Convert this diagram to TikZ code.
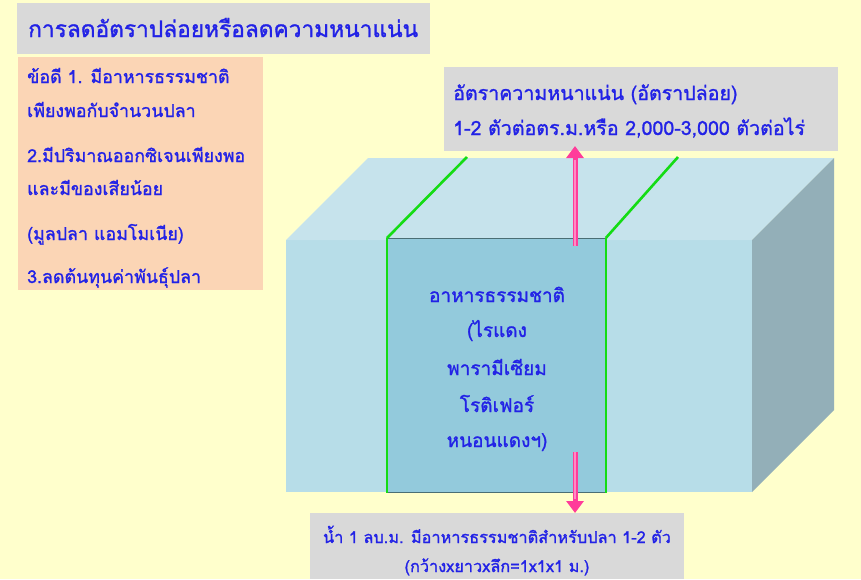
\documentclass[tikz,border=0pt]{standalone}
\usepackage{fontspec}
\newfontfamily\thai[Script=Thai,FakeBold=1.3]{Loma}
\usetikzlibrary{arrows.meta}
\definecolor{bg}{HTML}{FFFFCC}
\definecolor{graybox}{HTML}{D9D9D9}
\definecolor{peach}{HTML}{FBD5B5}
\definecolor{txtblue}{HTML}{2222E6}
\definecolor{frontc}{HTML}{B7DDE8}
\definecolor{topc}{HTML}{C6E3EC}
\definecolor{sidec}{HTML}{93AFB8}
\definecolor{innerc}{HTML}{93CADC}
\definecolor{greenl}{HTML}{14DC14}
\definecolor{pinkc}{HTML}{FF3C9A}
\definecolor{pinkl}{HTML}{FF8CC4}
\definecolor{edgec}{HTML}{4A6E74}
\tikzset{
  txt/.style={font=\thai\fontsize{17.8}{20}\selectfont, text=txtblue, inner sep=0pt},
  txtr/.style={font=\thai\fontsize{19.6}{22}\selectfont, text=txtblue, inner sep=0pt},
  txtf/.style={font=\thai\fontsize{19}{22}\selectfont, text=txtblue, inner sep=0pt},
  txtb/.style={font=\thai\fontsize{16.3}{19}\selectfont, text=txtblue, inner sep=0pt},
  ttl/.style={font=\thai\fontsize{22.7}{26}\selectfont, text=txtblue, inner sep=0pt},
  greenedge/.style={draw=greenl, line width=2.6pt},
  pinkarrow/.style={draw=pinkc, line width=5pt, -{Triangle[width=17pt,length=12pt]}},
}
\begin{document}
\begin{tikzpicture}[x=1pt,y=-1pt]
\useasboundingbox (0,0) rectangle (861,579);
\fill[bg] (0,0) rectangle (861,579);
% panels
\fill[graybox] (17,3) rectangle (430,54);
\fill[peach] (18,57) rectangle (263,290);
\fill[graybox] (444,67) rectangle (838,151);
\fill[graybox] (310,513) rectangle (684,579);
% cube
\fill[frontc] (286,240) rectangle (752,492);
\fill[topc] (286,240) -- (368,158) -- (834,158) -- (752,240) -- cycle;
\fill[sidec] (752,240) -- (834,158) -- (834,410) -- (752,492) -- cycle;
\node[draw=edgec, line width=0.8pt, fill=innerc, minimum width=218pt, minimum height=254pt, anchor=north west, inner sep=0pt] (inner) at (387,238) {};
\draw[greenedge] (inner.north west) -- (467,157);
\draw[greenedge] (inner.north east) -- (678,157);
\draw[greenedge] (inner.north west) -- (inner.south west);
\draw[greenedge] (inner.north east) -- (inner.south east);
% texts
\node[ttl, anchor=base west] (title) at (28,37) {การลดอัตราปล่อยหรือลดความหนาแน่น};
\node[txt, anchor=base west] (a1) at (27,83) {ข้อดี 1. มีอาหารธรรมชาติ};
\node[txt, anchor=base west] (a2) at (27,117) {เพียงพอกับจำนวนปลา};
\node[txt, anchor=base west] (a3) at (27,162) {2.มีปริมาณออกซิเจนเพียงพอ};
\node[txt, anchor=base west] (a4) at (27,195) {และมีของเสียน้อย};
\node[txt, anchor=base west] (a5) at (27,240) {(มูลปลา แอมโมเนีย)};
\node[txt, anchor=base west] (a6) at (27,283) {3.ลดต้นทุนค่าพันธุ์ปลา};
\node[txtr, anchor=base west] (d1) at (453,100) {อัตราความหนาแน่น (อัตราปล่อย)};
\node[txtr, anchor=base west] (d2) at (453,135) {1-2 ตัวต่อตร.ม.หรือ 2,000-3,000 ตัวต่อไร่};
\node[txtf, anchor=base] (f1) at (497,302) {อาหารธรรมชาติ};
\node[txtf, anchor=base] (f2) at (497,337) {(ไรแดง};
\node[txtf, anchor=base] (f3) at (497,375) {พารามีเซียม};
\node[txtf, anchor=base] (f4) at (497,412) {โรติเฟอร์};
\node[txtf, anchor=base] (f5) at (497,447) {หนอนแดงฯ)};
\node[txtb, anchor=base] (b1) at (497,543) {น้ำ 1 ลบ.ม. มีอาหารธรรมชาติสำหรับปลา 1-2 ตัว};
\node[txtb, anchor=base] (b2) at (497,572) {(กว้างxยาวxลึก=1x1x1 ม.)};
% arrows
\coordinate (upS) at (575,246);
\coordinate (upE) at (575,146);
\coordinate (dnS) at (575,452);
\coordinate (dnE) at (575,513);
\draw[pinkarrow] (upS) -- (upE);
\draw[pinkarrow] (dnS) -- (dnE);
\draw[pinkl, line width=1.2pt] (upS) -- ++(0,-86);
\draw[pinkl, line width=1.2pt] (dnS) -- ++(0,47);
\end{tikzpicture}
\end{document}
